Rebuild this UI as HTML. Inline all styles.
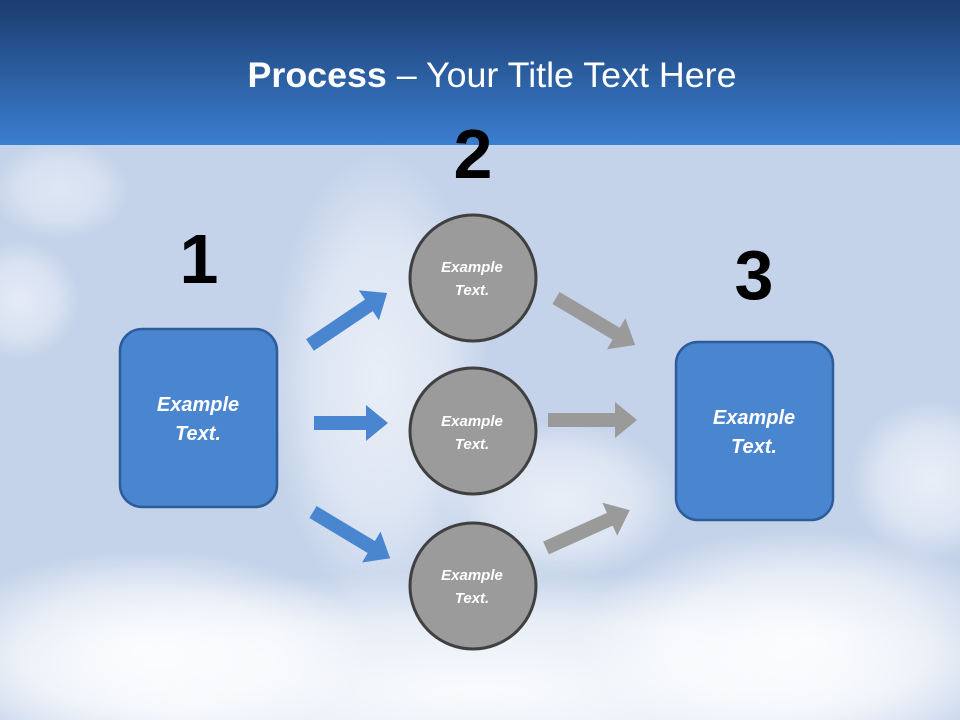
<!DOCTYPE html>
<html><head><meta charset="utf-8"><style>
html,body{margin:0;padding:0;overflow:hidden;width:960px;height:720px}
body{font-family:"Liberation Sans",sans-serif}
svg{display:block;overflow:hidden}
</style></head><body>
<svg width="960" height="720" viewBox="0 0 960 720" xmlns="http://www.w3.org/2000/svg" overflow="hidden">
<defs>
<linearGradient id="hd" x1="0" y1="0" x2="0" y2="1"><stop offset="0" stop-color="#1b3c6e"/><stop offset="1" stop-color="#3a7ed0"/></linearGradient>
<radialGradient id="cl" cx="0.5" cy="0.5" r="0.5"><stop offset="0" stop-color="#fff" stop-opacity="0.9"/><stop offset="0.6" stop-color="#fff" stop-opacity="0.6"/><stop offset="1" stop-color="#fff" stop-opacity="0"/></radialGradient>
<clipPath id="cp"><rect width="960" height="720"/></clipPath>
</defs>
<g clip-path="url(#cp)">
<rect width="960" height="720" fill="#c4d3ea"/>
<ellipse cx="480" cy="690" rx="560" ry="120" fill="url(#cl)"/>
<ellipse cx="800" cy="640" rx="220" ry="110" fill="url(#cl)"/>
<ellipse cx="150" cy="650" rx="220" ry="100" fill="url(#cl)"/>
<ellipse cx="380" cy="380" rx="110" ry="230" fill="url(#cl)" opacity="0.7"/>
<ellipse cx="560" cy="500" rx="120" ry="80" fill="url(#cl)" opacity="0.7"/>
<ellipse cx="930" cy="480" rx="80" ry="80" fill="url(#cl)" opacity="0.7"/>
<ellipse cx="20" cy="300" rx="60" ry="60" fill="url(#cl)" opacity="0.6"/>
<ellipse cx="60" cy="190" rx="70" ry="50" fill="url(#cl)" opacity="0.5"/>
</g>
<rect width="960" height="145" fill="url(#hd)"/>
<text x="492" y="87" text-anchor="middle" fill="#fff" font-size="35" textLength="489" lengthAdjust="spacingAndGlyphs"><tspan font-weight="bold">Process</tspan> – Your Title Text Here</text>
<g font-weight="bold" font-size="70" text-anchor="middle" fill="#000">
<text x="199" y="283">1</text><text x="473" y="178">2</text><text x="754" y="299">3</text>
</g>
<rect x="120" y="329" width="157" height="178" rx="22" fill="#4a86d0" stroke="#2c5c9a" stroke-width="2.5"/>
<rect x="676" y="342" width="157" height="178" rx="22" fill="#4a86d0" stroke="#2c5c9a" stroke-width="2.5"/>
<g fill="#9b9b9b" stroke="#404040" stroke-width="3">
<circle cx="473" cy="278" r="63"/><circle cx="473" cy="431" r="63"/><circle cx="473" cy="586" r="63"/>
</g>
<g fill="#fff" font-style="italic" font-weight="bold" text-anchor="middle">
<g font-size="20"><text x="198" y="411">Example</text><text x="198" y="440">Text.</text>
<text x="754" y="424">Example</text><text x="754" y="453">Text.</text></g>
<g font-size="15"><text x="472" y="272">Example</text><text x="472" y="295">Text.</text>
<text x="472" y="426">Example</text><text x="472" y="449">Text.</text>
<text x="472" y="580">Example</text><text x="472" y="603">Text.</text></g>
</g>
<g fill="#4a86d0">
<g transform="translate(310,345) rotate(-34)"><polygon points="0,-7 71,-7 71,-18 93,0 71,18 71,7 0,7"/></g>
<g transform="translate(314,423)"><polygon points="0,-7 52,-7 52,-18 74,0 52,18 52,7 0,7"/></g>
<g transform="translate(313,512) rotate(31)"><polygon points="0,-7 68,-7 68,-18 90,0 68,18 68,7 0,7"/></g>
</g>
<g fill="#9a9a9a">
<g transform="translate(556,298) rotate(30.7)"><polygon points="0,-7 70,-7 70,-18 92,0 70,18 70,7 0,7"/></g>
<g transform="translate(548,420)"><polygon points="0,-7 67,-7 67,-18 89,0 67,18 67,7 0,7"/></g>
<g transform="translate(546,548) rotate(-24.3)"><polygon points="0,-7 70,-7 70,-18 92,0 70,18 70,7 0,7"/></g>
</g>
</svg>
</body></html>
